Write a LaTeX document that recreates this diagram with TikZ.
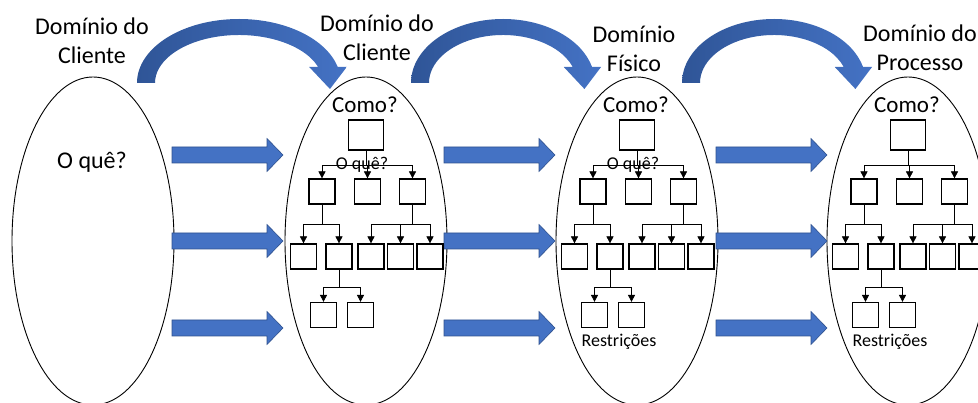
\documentclass[tikz,border=0pt]{standalone}
\usepackage{fontspec}
\setmainfont{Carlito}
\usetikzlibrary{arrows.meta}

\definecolor{arrowblue}{HTML}{4472C4}
\definecolor{arrowedge}{HTML}{2F528F}
\definecolor{curvedark}{HTML}{2F5597}

\begin{document}
\begin{tikzpicture}[x=1pt, y=-1pt,
        box/.style={draw, line width=1.2pt, minimum width=26pt, minimum height=25pt, inner sep=0pt},
        topbox/.style={box, minimum width=35pt, minimum height=30pt},
        link/.style={line width=0.7pt, -{Triangle[length=7pt, width=7pt]}},
        head/.style={font=\fontsize{24}{29}\selectfont, align=center, inner sep=0pt},
        question/.style={font=\fontsize{23}{27}\selectfont, inner sep=0pt},
        small/.style={font=\fontsize{18}{20}\selectfont, inner sep=0pt},
        blockarrow/.style={fill=arrowblue, draw=arrowedge, line width=0.6pt}]
        \useasboundingbox (0,0) rectangle (978,403);

        \draw[line width=0.9pt] (93,241) ellipse[x radius=81, y radius=164];
        \draw[line width=0.9pt] (366,241) ellipse[x radius=81, y radius=164];
        \draw[line width=0.9pt] (637,241) ellipse[x radius=81, y radius=164];
        \draw[line width=0.9pt] (908,241) ellipse[x radius=81, y radius=164];

        \node[head] (h1) at (92,41) {Domínio do\\Cliente};
        \node[head] (h2) at (377,38) {Domínio do\\Cliente};
        \node[head] (h3) at (634,49) {Domínio\\Físico};
        \node[head] (h4) at (920,48) {Domínio do\\Processo};

        \node[question, font=\fontsize{24}{29}\selectfont] (a-oque) at (92,162) {O quê?};

        \foreach \ax in {172,444,716} {
            \foreach \ay in {155,241,328} {
                \draw[blockarrow] (\ax,\ay-8) -- (\ax+95,\ay-8) -- (\ax+95,\ay-16.5)
                    -- (\ax+111,\ay) -- (\ax+95,\ay+16.5) -- (\ax+95,\ay+8) -- (\ax,\ay+8) -- cycle;
            }
        }

        \foreach \cx/\n in {366/b, 637/c, 908/d} {
            \node[question] (\n-como) at (\cx-1,105) {Como?};
            \node[topbox] (\n-top) at (\cx,135) {};
            \node[box] (\n-a1) at (\cx-44,191.5) {};
            \node[box] (\n-a2) at (\cx+1.5,191.5) {};
            \node[box] (\n-a3) at (\cx+46.5,191.5) {};
            \node[box] (\n-b1) at (\cx-62.5,256.5) {};
            \node[box] (\n-b2) at (\cx-27,256.5) {};
            \node[box] (\n-b3) at (\cx+5,256.5) {};
            \node[box] (\n-b4) at (\cx+34.5,256.5) {};
            \node[box] (\n-b5) at (\cx+64,256.5) {};
            \node[box] (\n-c1) at (\cx-42.5,315) {};
            \node[box] (\n-c2) at (\cx-5.5,315) {};

            \draw[link] (\n-top.south) -- ++(0,15) -| (\n-a1.north);
            \draw[link] (\n-top.south) -- ++(0,15) -| (\n-a2.north);
            \draw[link] (\n-top.south) -- ++(0,15) -| (\n-a3.north);
            \draw[link] (\n-a1.south) -- ++(0,20) -| (\n-b1.north);
            \draw[link] (\n-a1.south) -- ++(0,20) -| (\n-b2.north);
            \draw[link] (\n-a3.south) -- ++(0,20) -| (\n-b3.north);
            \draw[link] (\n-a3.south) -- ++(0,20) -| (\n-b4.north);
            \draw[link] (\n-a3.south) -- ++(0,20) -| (\n-b5.north);
            \draw[link] (\n-b2.south) -- ++(0,18) -| (\n-c1.north);
            \draw[link] (\n-b2.south) -- ++(0,18) -| (\n-c2.north);
        }

        \node[small] (b-oque) at (362,165) {O quê?};
        \node[small] (c-oque) at (633,165) {O quê?};
        \node[small] (c-restr) at (619,342) {Restrições};
        \node[small] (d-restr) at (890,342) {Restrições};

        \foreach \xl/\rx in {137/102, 411/92, 682/92} {
            \pgfmathsetmacro{\cmid}{\xl+\rx}
            \pgfmathsetmacro{\rin}{\rx-18}
            \pgfmathsetmacro{\xout}{\cmid+\rx*cos(14.48)}
            \pgfmathsetmacro{\xinn}{\cmid+\rin*cos(19.47)}
            \pgfmathsetmacro{\xtip}{(\xout+\xinn)/2+2}
            \shade[left color=curvedark, right color=arrowblue]
                (\xl,83) arc[start angle=180, end angle=345.52, x radius=\rx, y radius=64]
                -- (\xout+9,67) -- (\xtip,89) -- (\xinn-9,67) -- (\xinn,67)
                arc[start angle=340.53, end angle=180, x radius=\rin, y radius=48] -- cycle;
        }
\end{tikzpicture}
\end{document}
